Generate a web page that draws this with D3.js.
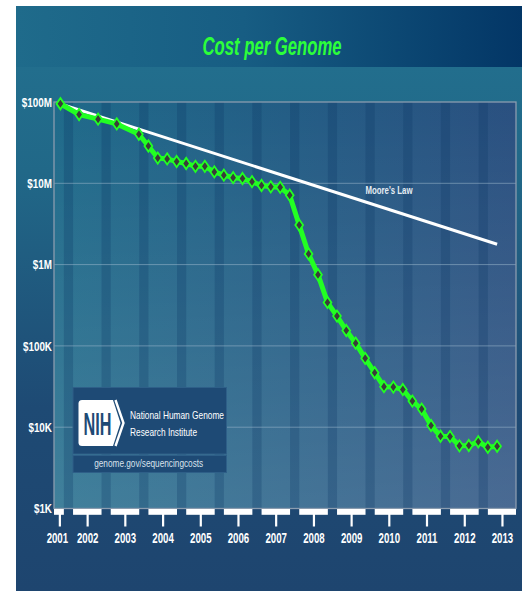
<!DOCTYPE html>
<html><head><meta charset="utf-8">
<script src="https://cdn.jsdelivr.net/npm/d3@7"></script>
<style>html,body{margin:0;padding:0;background:#fff;} svg{display:block}</style>
</head><body><svg id="c" width="526" height="593"></svg>
<script>
// ---------- data ----------
const dates = ["2001-09","2002-03","2002-09","2003-03","2003-10","2004-01","2004-04","2004-07","2004-10","2005-01","2005-04","2005-07","2005-10","2006-01","2006-04","2006-07","2006-10","2007-01","2007-04","2007-07","2007-10","2008-01","2008-04","2008-07","2008-10","2009-01","2009-04","2009-07","2009-10","2010-01","2010-04","2010-07","2010-10","2011-01","2011-04","2011-07","2011-10","2012-01","2012-04","2012-07","2012-10","2013-01","2013-04"];
const costs = [95263072,70175437,61448422,53751684,40157554,28780376,20442576,19934346,18519312,17534970,16159699,16180224,13801124,12585659,11732535,11455315,10474556,9408739,9047003,8927342,7147571,3063820,1352982,752080,342502,232735,154714,108065,70333,46774,31512,31125,29092,20963,16712,10497,7743,7666,5901,5950,6618,5671,5826];
const mooreDates = ["2001-09","2013-04"];
const mooreCosts = [95000000, 1780000];
const yTickValues = [1e3,1e4,1e5,1e6,1e7,1e8];
const yTickLabels = ["$1K","$10K","$100K","$1M","$10M","$100M"];
const yearLabels = ["2001","2002","2003","2004","2005","2006","2007","2008","2009","2010","2011","2012","2013"];
const yearTickDates = ["2001-08-22","2002-05-18","2003-05-18","2004-05-18","2005-05-18","2006-05-18","2007-05-18","2008-05-18","2009-05-18","2010-05-18","2011-05-18","2012-05-18","2013-05-18"];
const stripeDates = ["2001-11-18","2002-11-18","2003-11-18","2004-11-18","2005-11-18","2006-11-18","2007-11-18","2008-11-18","2009-11-18","2010-11-18","2011-11-18","2012-11-18"];
const title = "Cost per Genome";
const mooreLabel = "Moore's Law";

// ---------- setup ----------
const pm = d3.timeParse("%Y-%m"), pd = d3.timeParse("%Y-%m-%d");
const svg = d3.select("#c");
const FONT = "'Liberation Sans',Arial,sans-serif";
const P = {l:16, t:6, r:522, b:591, titleB:67};
const plot = {l:54, t:102, r:516, b:508.5};

const x = d3.scaleTime().domain([new Date(2001,6,1), new Date(2013,9,1)]).range([plot.l, plot.r]);
const y = d3.scaleLog().domain([1e3,1e8]).range([plot.b, plot.t]);

// squeeze text horizontally (reference uses a condensed face)
function squeeze(sel, f){
  sel.each(function(){
    const w = this.getComputedTextLength();
    d3.select(this).attr("textLength", w*f).attr("lengthAdjust","spacingAndGlyphs");
  });
}

const defs = svg.append("defs");
function lg(id, x1,y1,x2,y2, stops, user){
  const g = defs.append("linearGradient").attr("id",id).attr("x1",x1).attr("y1",y1).attr("x2",x2).attr("y2",y2);
  if(user) g.attr("gradientUnits","userSpaceOnUse");
  stops.forEach(s=>g.append("stop").attr("offset",s[0]).attr("stop-color",s[1]).attr("stop-opacity",s[2]===undefined?1:s[2]));
}
lg("gTitle",0,0,1,0,[[0,"#1f6b8b"],[0.45,"#175d83"],[1,"#033666"]]);
lg("gBody",0,P.titleB,0,P.b,[[0,"#226e8d"],[0.2,"#216888"],[0.65,"#1e4a74"],[1,"#1e456f"]],true);
lg("gPlotH",0,0,1,0,[[0,"#1f6a8a"],[0.5,"#235d85"],[1,"#2a5080"]]);
lg("gPlotV",0,0,0,1,[[0,"#ffffff",0],[1,"#ffffff",0.15]]);

// panel
svg.append("rect").attr("x",P.l).attr("y",P.titleB).attr("width",P.r-P.l).attr("height",P.b-P.titleB).attr("fill","url(#gBody)");
svg.append("rect").attr("x",P.l).attr("y",P.t).attr("width",P.r-P.l).attr("height",P.titleB-P.t).attr("fill","url(#gTitle)");

// title
svg.append("text").attr("x",272).attr("y",54.5).attr("text-anchor","middle")
  .attr("font-family",FONT).attr("font-weight","bold").attr("font-style","italic").attr("font-size",25)
  .attr("fill","#2cff3a").attr("textLength",139).attr("lengthAdjust","spacingAndGlyphs").text(title);

// plot background
svg.append("rect").attr("x",plot.l).attr("y",plot.t).attr("width",plot.r-plot.l).attr("height",plot.b-plot.t).attr("fill","url(#gPlotH)");
svg.append("rect").attr("x",plot.l).attr("y",plot.t).attr("width",plot.r-plot.l).attr("height",plot.b-plot.t).attr("fill","url(#gPlotV)");
// stripes
svg.append("g").selectAll("rect").data(stripeDates).join("rect")
  .attr("x",d=>x(pd(d))-4.6).attr("width",9.2).attr("y",plot.t).attr("height",plot.b-plot.t)
  .attr("fill","#0b3566").attr("opacity",0.26);

// gridlines
svg.append("g").selectAll("line").data(yTickValues.slice(1,5)).join("line")
  .attr("x1",plot.l).attr("x2",plot.r).attr("y1",d=>y(d)).attr("y2",d=>y(d))
  .attr("stroke","#9db8cc").attr("stroke-opacity",0.55).attr("stroke-width",1);
// frame
svg.append("rect").attr("x",plot.l).attr("y",plot.t).attr("width",plot.r-plot.l).attr("height",plot.b-plot.t)
  .attr("fill","none").attr("stroke","#8a9caf").attr("stroke-width",1.3);

// y axis
const yAxis = d3.axisLeft(y).tickValues(yTickValues).tickSize(0).tickPadding(2)
  .tickFormat((d,i)=>yTickLabels[i]);
const gy = svg.append("g").attr("transform",`translate(${plot.l},0)`).call(yAxis);
gy.select(".domain").remove();
gy.selectAll("text").attr("font-family",FONT).attr("font-weight","bold").attr("font-size",12.5)
  .attr("fill","#ffffff").attr("dy","0.35em");
squeeze(gy.selectAll("text"), 0.79);

// x axis white bars
const stripeX = stripeDates.map(d=>x(pd(d)));
const bars = [];
for(let i=0;i<yearTickDates.length;i++){
  const left = i===0 ? plot.l : stripeX[i-1]+4.6;
  const right = i<stripeX.length ? stripeX[i]-4.6 : plot.r;
  bars.push([left,right]);
}
svg.append("g").selectAll("rect").data(bars).join("rect")
  .attr("x",d=>d[0]).attr("width",d=>d[1]-d[0]).attr("y",plot.b+0.5).attr("height",5.8).attr("fill","#ffffff");

const xAxis = d3.axisBottom(x).tickValues(yearTickDates.map(pd)).tickSize(13).tickPadding(7)
  .tickFormat((d,i)=>yearLabels[i]);
const gx = svg.append("g").attr("transform",`translate(0,${plot.b+5})`).call(xAxis);
gx.select(".domain").remove();
gx.selectAll(".tick line").attr("stroke","#ffffff").attr("stroke-width",2.2);
gx.selectAll("text").attr("font-family",FONT).attr("font-weight","bold").attr("font-size",14).attr("fill","#ffffff");
gx.selectAll("text").filter((d,i)=>i===0).attr("dx",-2.5);
squeeze(gx.selectAll("text"), 0.69);

// Moore's law
const line = d3.line().x(d=>x(pm(d[0]))).y(d=>y(d[1]));
svg.append("path").datum(mooreDates.map((d,i)=>[d,mooreCosts[i]])).attr("d",line)
  .attr("fill","none").attr("stroke","#ffffff").attr("stroke-width",3);
svg.append("text").attr("x",389).attr("y",193.5).attr("text-anchor","middle")
  .attr("font-family",FONT).attr("font-weight","bold").attr("font-size",11.5).attr("fill","#e6edf3")
  .attr("textLength",47).attr("lengthAdjust","spacingAndGlyphs").text(mooreLabel);

// cost line
const pts = dates.map((d,i)=>[d,costs[i]]);
svg.append("path").datum(pts).attr("d",line).attr("fill","none").attr("stroke","#22ff22")
  .attr("stroke-width",5).attr("stroke-linejoin","round");
svg.append("g").selectAll("path").data(pts).join("path")
  .attr("transform",d=>`translate(${x(pm(d[0]))},${y(d[1])})`)
  .attr("d","M0,-5.6L3.9,0L0,5.6L-3.9,0Z")
  .attr("fill","#3b3b3b").attr("stroke","#22ff22").attr("stroke-width",1.8).attr("stroke-linejoin","miter");

// NIH box
const nb = svg.append("g");
nb.append("rect").attr("x",73).attr("y",387.5).attr("width",153.5).attr("height",66.5)
  .attr("fill","#1e4a75").attr("stroke","#2e5f88").attr("stroke-width",1);
nb.append("rect").attr("x",73).attr("y",455.5).attr("width",153.5).attr("height",17)
  .attr("fill","#1e4a75").attr("stroke","#2e5f88").attr("stroke-width",1);
nb.append("path").attr("d","M82,400 L113,400 L120.5,423 L113,446 L82,446 Q78.5,446 78.5,442.5 L78.5,403.5 Q78.5,400 82,400 Z").attr("fill","#ffffff");
nb.append("path").attr("d","M115.5,400 L123.5,423 L115.5,446").attr("fill","none").attr("stroke","#ffffff").attr("stroke-width",2.4);
nb.append("text").attr("x",83.5).attr("y",434.5).attr("font-family",FONT).attr("font-weight","bold").attr("font-size",32)
  .attr("fill","#1e4a75").attr("textLength",28).attr("lengthAdjust","spacingAndGlyphs").text("NIH");
nb.append("text").attr("x",130).attr("y",419).attr("font-family",FONT).attr("font-size",11.5)
  .attr("fill","#ffffff").attr("textLength",94).attr("lengthAdjust","spacingAndGlyphs").text("National Human Genome");
nb.append("text").attr("x",130).attr("y",435.5).attr("font-family",FONT).attr("font-size",11.5)
  .attr("fill","#ffffff").attr("textLength",67).attr("lengthAdjust","spacingAndGlyphs").text("Research Institute");
nb.append("text").attr("x",148.7).attr("y",467).attr("text-anchor","middle").attr("font-family",FONT).attr("font-size",11.5)
  .attr("fill","#d9e2ec").attr("textLength",109).attr("lengthAdjust","spacingAndGlyphs").text("genome.gov/sequencingcosts");
</script></body></html>
